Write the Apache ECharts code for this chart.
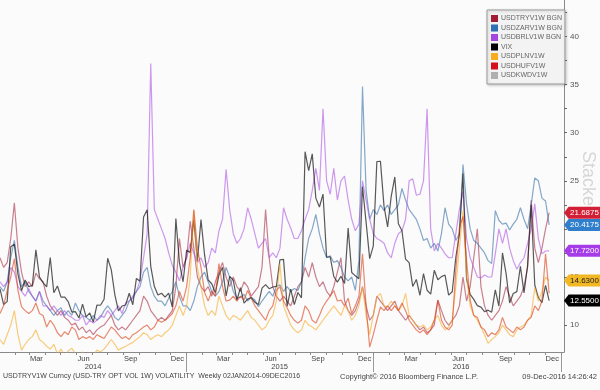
<!DOCTYPE html>
<html><head><meta charset="utf-8">
<script src="https://cdn.jsdelivr.net/npm/echarts@6/dist/echarts.min.js"></script>
<style>html,body{margin:0;padding:0;background:#fbfbfb}#c{width:600px;height:390px}</style>
</head><body><div id="c"></div>
<script>
// Weekly observations, first = Fri 03-Jan-2014, last = Fri 09-Dec-2016
const FIRST_DAY = 2;      // days since 1-Jan-2014
const STEP_DAYS = 7;

const TRY = [17,16,16.5,19,22.7,18,15.5,14,14.5,14, 15.4,14.8,14.5,13,12,11.5,11,11.5,10.8,10.5, 10,10.2,9.5,9.8,9.2,9.5,9,9.5,9.8,10, 10.5,11,10,9.5,9.8,9.5,10,10.5,11,11.5, 13,12.5,11.5,11,10.5,10.8,10.5,11,11.5,14, 19,16,
 17,20.8,18,15,14,13.5,14,13,14.5,15.5, 16.5,15,14,15,14,13.5,14.5,14,13,13.5, 14,16,22,17,14,13,12.5,13,12.5,12, 13,14,14.5,16,15,16.5,15,14,14.5,13.5, 13,14,15.5,17,12.5,11.5,11,11.5,12.5,14, 12,10.5,
 11,13,12.5,12,11.5,12,12.5,11.5,11,10.5, 11,10.5,10,9.5,9.8,9.2,9.5,10,12.6,11.5, 10.5,10,10.5,11,12,15,12.5,14,17,20, 14,12,11,10.5,11,11.5,12.5,14,13,12, 12.5,13,14,16,23,18,16.5,18,20,21.6875];

const ZAR = [14,13.5,14.5,17,18.8,16,14,14.5,13.5,13, 12.5,13.5,12.5,12,11.5,11,11.5,11.8,11,11.5, 11,12.3,11.5,11,10.8,10.5,11,10.5,10.8,11.5, 12,11.5,10.8,10.5,11,11.5,12.5,12.8,13.5,14, 15.5,16,14,13,12.5,12.5,12,12.8,13.5,14.5, 13,12,
 12,11.5,12.5,14,15,15.5,14.5,13.5,13,13.5, 14.5,16,15,13.5,12.8,12.9,13.2,12.5,12.9,12.6, 11.9,12.5,13,13.5,13,14,14.2,13.5,14,13.5, 13.8,13.6,14.5,17,19,20,21.5,19.5,18,17, 17.2,16.5,16.7,16,15,14.6,15,13.6,16.7,34.8, 24,21,
 22,21.5,22.5,21.9,22.5,21.5,22,22.5,24.2,23, 22,21.5,21,20,18.8,19,18,18.5,17.7,19.5, 22.2,20.5,20,18.8,19.5,26.7,22.6,20,18.8,18.5, 18,17.5,16.7,16.4,21.9,20.9,20.5,20.6,19.9,20.5, 21,22.2,21,20,22.5,25.3,25,23.2,22.9,20.4175];

const BRL = [14.5,14,14.5,16,15.5,14,13.5,13,13.8,13, 12.5,13.5,12,12,11.5,12,11.5,11,11.5,11, 10.8,10.5,10.5,11,10,10.5,10.2,10.5,11,10.8, 11.5,11,11.5,12,11.2,12.3,12.5,13,13.5,14.6, 17,19.5,37.2,22,21,20,19,17.5,16.2,15.5, 14.6,16,
 17,18.5,17.5,16.5,17,16,16.5,18,17.5,19.8, 21,26.2,22,19.5,18.5,19,20,22.2,21,19.5, 18,18.5,19,17,17.5,17,18,22.2,21,20.1, 19,19,19.8,21,22,24,26.3,24,32.5,25, 23.6,26.3,23,25,25.5,23,21,19.8,20.5,25, 23,21,
 19.5,19,18.8,18.5,17.5,17,18.5,19.5,19.8,21, 25,25.2,23.5,23.6,25,32.5,20,17.7,18.5,18, 17.4,17,17,19.5,22,23.9,19,17,16,15, 14.9,15.2,15,15,17.4,20,18.5,20,18,16.7, 15.8,16.5,17,18.5,20,22.6,19,17.4,17.7,17.72];

const VIX = [13.76,12.14,12.44,18.14,18.41,15.29,13.57,14.68,14.00,14.11, 17.82,15.00,14.41,13.96,17.03,13.36,14.06,12.91,12.92,12.44, 11.36,11.40,10.73,12.18,10.85,11.26,10.32,12.08,12.06,12.69, 16.95,15.77,13.15,11.47,11.98,12.09,13.31,12.11,14.85,14.55, 21.24,21.99,16.11,14.03,13.12,13.31,12.90,13.33,11.89,21.08, 16.49,14.50,
 17.79,17.55,20.95,16.66,20.97,17.29,14.69,14.30,13.34,15.20, 16.00,13.02,15.07,14.67,12.58,13.89,12.29,12.70,12.86,12.38, 12.13,13.84,14.21,13.78,13.96,14.02,16.79,16.83,11.95,13.74, 12.12,13.39,12.83,28.03,26.05,27.80,23.20,22.28,23.62,17.08, 17.08,15.05,14.46,15.07,14.33,20.08,15.47,15.12,14.81,24.39, 20.70,16.91,
 18.21,27.01,27.02,22.34,20.20,23.38,25.40,20.53,19.81,16.86, 16.50,14.02,14.74,13.10,15.36,13.62,13.22,15.70,14.72,15.04, 15.20,13.12,13.47,17.03,19.41,25.76,14.77,13.20,12.67,12.02, 11.87,11.39,11.55,11.34,13.65,11.98,17.50,15.37,12.29,13.29, 13.48,16.12,13.34,16.19,22.51,14.17,12.85,12.34,14.12,12.55];

const PLN = [8.5,8,9,10,11.5,9,7.4,8,8.5,8.8, 9.5,8.5,8.2,7.8,7.5,8,7,7.5,6.8,7.3, 7.6,7,6.8,7.2,6.5,7,6.8,7.4,7.2,7.5, 8,8.5,8,7.4,7.6,7.8,8,8.2,8.5,8.8, 9.2,9,8.5,8.8,9,8.8,9.2,9.5,10,11, 12,11,
 12,15,21.9,16,14,12,11,11.5,11,13, 12,11,10.5,11,10.8,10.5,11,11.5,10.8,10.5, 10,9.5,9.8,10.5,11,12.5,16.4,12,11,10, 9.5,9.2,9.5,10.5,10,9.8,9.5,10,10.5,11, 11.5,12,11.5,11,12,11.5,10.5,11,12,14, 11,9,
 11,12.9,13.3,12,11.9,12.5,12,11.5,12,13.3, 11,10.5,10,9.8,10,9.5,9.8,10.5,11,10, 9.5,9.8,10.5,14,18,21.9,15,12,11,10.5, 9.8,9,8.1,8.5,8.8,9.2,10,9.5,9,8.8, 9.5,9.8,10,10.5,11,13.9,12.5,13.5,15,14.63];

const HUF = [11.2,12,13.6,15,16.9,13.6,11.9,11.5,11.2,11.5, 12.3,11.2,11,9.8,10.5,10,9.2,8.8,9.3,9, 9.8,9.5,8.5,8.8,8.6,8.8,8.5,9,8.8,8.6, 9.2,9.8,9.5,9,8.6,8.8,8.5,9,9.2,9.5, 9.8,10,9.5,9.8,10.5,10.3,10.5,10.8,11.2,12, 13.5,12.5,
 14,17,22,18,16,13.4,12.5,13.5,13,16.4, 14,12.5,12.6,13,12.5,13,12.6,13.6,12.8,12, 11.5,11,10.5,11.5,12,13.6,14,12.5,11.8,11, 10.5,10.2,10.5,12,11.5,10.5,10.2,11,11.9,12.5, 13,13.6,12.5,12.6,12,12.8,11.2,12,13,17.4, 12,7.7,
 9,10.5,11.9,11.5,12,11.5,12,11.5,12.3,11.5, 10.5,10,9.5,9.2,9.5,9,9.5,10.5,12.6,10.5, 9.8,9.5,10,15.7,20.1,21.3,16.7,12.6,11,10.8, 9.8,9.5,8.8,9.2,9,9.5,10.8,9.8,9.5,9.2, 9.8,9.5,9.8,10.5,10.8,12,11.5,12.5,17.4,13.3];

const KWD = [2.1,2.3,2.2,2.8,3.1,2.6,2.4,2.2,2.3,2.5, 2.7,2.4,2.2,2.0,2.1,1.9,1.8,2.0,1.9,1.8, 1.7,1.9,1.8,1.7,1.8,1.6,1.7,1.8,1.9,2.0, 2.2,2.1,1.9,1.8,1.9,2.0,2.1,2.2,2.3,2.5, 2.8,2.6,2.4,2.3,2.4,2.5,2.6,2.7,2.9,3.2, 3.0,2.8,
 3.1,3.4,4.0,3.5,3.2,3.0,2.9,3.0,2.8,3.1, 3.0,2.9,2.8,2.7,2.8,2.6,2.7,2.8,2.6,2.5, 2.6,2.7,2.8,2.6,2.7,2.9,3.0,2.8,2.7,2.6, 2.8,2.9,3.0,3.8,3.5,3.4,3.2,3.1,3.3,3.0, 2.9,2.8,2.7,2.8,2.9,3.1,3.0,2.9,2.8,3.4, 3.1,2.9,
 3.2,3.6,3.5,3.3,3.1,3.4,3.5,3.2,3.0,2.9, 2.8,2.7,2.6,2.7,2.6,2.5,2.6,2.7,2.6,2.5, 2.4,2.5,2.6,2.7,2.9,3.5,3.0,2.8,2.7,2.6, 2.5,2.4,2.3,2.4,2.5,2.6,2.7,2.6,2.5,2.6, 2.7,2.8,2.9,3.0,3.4,3.2,3.1,3.2,3.3,3.1];

const SERIES_NAMES = ['USDTRYV1W BGN','USDZARV1W BGN','USDBRLV1W BGN','VIX','USDPLNV1W','USDHUFV1W','USDKWDV1W'];
const Y_LABELS = [10,15,20,25,30,35,40];
const MONTH_NAMES = ['Jan','Feb','Mar','Apr','May','Jun','Jul','Aug','Sep','Oct','Nov','Dec'];
const LABEL_MONTHS = [2,5,8,11];
const YEARS = [2014,2015,2016];
const FOOTER_LEFT = 'USDTRYV1W Curncy (USD-TRY OPT VOL 1W) VOLATILITY  Weekly 02JAN2014-09DEC2016';
const FOOTER_MID = 'Copyright\u00A9 2016 Bloomberg Finance L.P.';
const FOOTER_RIGHT = '09-Dec-2016 14:26:42';

// ---- build ----
const DAY0 = Date.UTC(2014,0,1);
const dayOf = (y,m,d) => (Date.UTC(y,m,d) - DAY0) / 86400000;
const X_MIN = 2, X_MAX = 1102;
const toPoints = arr => arr.map((v,i) => [FIRST_DAY + STEP_DAYS*i, v]);

const monthStarts = [];
const monthLabelDays = [];
YEARS.forEach(y => {
  for (let m = 0; m < 12; m++) monthStarts.push(dayOf(y,m,1));
  LABEL_MONTHS.forEach(m => monthLabelDays.push(dayOf(y,m,15)));
});
monthStarts.push(dayOf(2017,0,1));
const yearBounds = [dayOf(2015,0,1), dayOf(2016,0,1), dayOf(2017,0,1)];
const lastDay = FIRST_DAY + STEP_DAYS*(VIX.length-1);
const yearMid = YEARS.map(y => {
  const a = Math.max(dayOf(y,0,1), FIRST_DAY), b = Math.min(dayOf(y+1,0,1), lastDay);
  return (a+b)/2;
});
const yTicks = [];
for (let v = 10; v <= 42.5; v += 2.5) yTicks.push(v);

const FONT = 'Liberation Sans, Arial, sans-serif';
const lineCols = ['rgba(168,45,70,0.6)','rgba(60,115,170,0.62)','rgba(170,80,225,0.58)','rgba(25,25,25,0.72)','rgba(246,175,45,0.62)','rgba(220,65,25,0.62)','rgba(150,150,150,0.6)'];
const legendCols = ['#a31c36','#2f6fb3','#a447e0','#000000','#f7ad1c','#d3111b','#b0b0b0'];
const boxCols = ['#d21f35','#2f7fcc','#a63ce8','#000000','#f2b824','#d3111b',null];
const boxText = ['#fff','#fff','#fff','#fff','#222',null,null];
const datasets = [TRY, ZAR, BRL, VIX, PLN, HUF, KWD];
const withBox = [true,true,true,true,true,false,false];

const series = datasets.map((arr, k) => {
  const s = {
    name: SERIES_NAMES[k], type: 'line', data: toPoints(arr),
    showSymbol: false, symbol: 'none', clip: true,
    lineStyle: {color: lineCols[k], width: 1.2},
    itemStyle: {color: legendCols[k]},
    emphasis: {disabled: true}, animation: false, z: 2
  };
  if (withBox[k]) {
    const last = arr[arr.length-1];
    s.markPoint = {
      silent: true, animation: false,
      symbol: 'path://M0,6 L5,0 L40,0 L40,12 L5,12 Z',
      symbolSize: [37, 12], symbolKeepAspect: false, symbolOffset: ['50%', 0],
      itemStyle: {color: boxCols[k]},
      label: {show: true, position: 'inside', offset: [2, 0], fontSize: 8, fontFamily: FONT,
              color: boxText[k], formatter: () => last.toFixed(4)},
      data: [{coord: [X_MAX, last]}]
    };
  }
  return s;
});

const chart = echarts.init(document.getElementById('c'), null, {renderer: 'canvas'});
chart.setOption({
  backgroundColor: '#fbfbfb',
  animation: false,
  grid: {left: 0, right: 36, top: 0, bottom: 38},
  legend: {
    orient: 'vertical', left: 487, top: 10,
    itemWidth: 7, itemHeight: 7, itemGap: 2.5, icon: 'rect',
    textStyle: {fontSize: 7, color: '#666', fontFamily: FONT, padding: [0,0,0,-2]},
    backgroundColor: '#f3f3f3', borderColor: '#9a9a9a', borderWidth: 1, padding: [5,3,5,4],
    shadowColor: 'rgba(0,0,0,0.2)', shadowBlur: 3, shadowOffsetX: 1, shadowOffsetY: 1,
    selectedMode: false, data: SERIES_NAMES
  },
  xAxis: [{
    type: 'value', min: X_MIN, max: X_MAX, position: 'bottom',
    axisLine: {show: true, lineStyle: {color: '#8a8a8a', width: 1}},
    axisTick: {show: true, length: 3, customValues: monthStarts, lineStyle: {color: '#8a8a8a'}},
    axisLabel: {show: true, customValues: monthLabelDays, margin: 3, fontSize: 7.5, color: '#444', fontFamily: FONT,
      formatter: v => MONTH_NAMES[new Date(DAY0 + v*86400000).getUTCMonth()]},
    splitLine: {show: false}
  }, {
    type: 'value', min: X_MIN, max: X_MAX, position: 'bottom', offset: 3,
    axisLine: {show: false},
    axisTick: {show: true, length: 17, customValues: yearBounds, lineStyle: {color: '#999'}},
    axisLabel: {show: true, customValues: yearMid, margin: 8, fontSize: 7.5, color: '#444', fontFamily: FONT,
      formatter: v => String(new Date(DAY0 + v*86400000).getUTCFullYear())},
    splitLine: {show: false}
  }],
  yAxis: {
    type: 'value', position: 'right', min: 7.2, max: 43.8,
    axisLine: {show: true, lineStyle: {color: '#8a8a8a'}},
    axisTick: {show: true, length: 3, customValues: yTicks, lineStyle: {color: '#666'}},
    axisLabel: {show: true, customValues: Y_LABELS, margin: 6, fontSize: 8, color: '#555', fontFamily: FONT},
    splitLine: {show: false}
  },
  graphic: [
    {type: 'text', x: 579, y: 151, rotation: -Math.PI/2, z: 0, silent: true,
     style: {text: 'Stacked', fontSize: 18, fontFamily: FONT, fill: '#d6d6d6', align: 'left', verticalAlign: 'bottom', textAlign: 'left', textVerticalAlign: 'bottom'}},
    {type: 'text', left: 3, top: 373, silent: true,
     style: {text: FOOTER_LEFT, fontSize: 7, fontFamily: FONT, fill: '#444'}},
    {type: 'text', left: 340, top: 373, silent: true,
     style: {text: FOOTER_MID, fontSize: 7.5, fontFamily: FONT, fill: '#444'}},
    {type: 'text', right: 3, top: 373, silent: true,
     style: {text: FOOTER_RIGHT, fontSize: 7.5, fontFamily: FONT, fill: '#444'}}
  ],
  series: series
});
</script></body></html>
